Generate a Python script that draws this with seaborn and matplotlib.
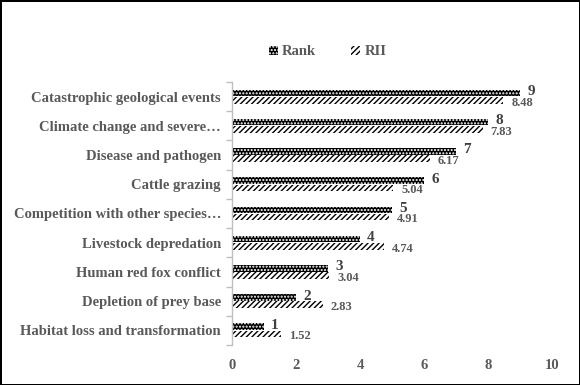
import numpy as np
import pandas as pd
import seaborn as sns
import matplotlib.pyplot as plt
from matplotlib.patches import Patch

categories = ['Catastrophic geological events', 'Climate change and severe…',
              'Disease and pathogen', 'Cattle grazing', 'Competition with other species…',
              'Livestock depredation', 'Human red fox conflict', 'Depletion of prey base',
              'Habitat loss and transformation']
rank = [9, 8, 7, 6, 5, 4, 3, 2, 1]
rii = [8.48, 7.83, 6.17, 5.04, 4.91, 4.74, 3.04, 2.83, 1.52]
series = ['Rank', 'RII']

df = pd.DataFrame({'threat': categories * 2,
                   'value': rank + rii,
                   'series': ['Rank'] * len(rank) + ['RII'] * len(rii)})

sns.set_theme(style='white')
plt.rcParams['font.family'] = ['Liberation Serif', 'DejaVu Serif']
plt.rcParams['font.weight'] = 'bold'
plt.rcParams['hatch.linewidth'] = 1.0
grey = '#595959'

fig = plt.figure(figsize=(5.8, 3.85), dpi=100)
fig.patch.set_edgecolor('black')
fig.patch.set_linewidth(2)
ax = fig.add_axes([0.4, 0.104, 0.552, 0.683])

sns.barplot(data=df, y='threat', x='value', hue='series', hue_order=series,
            order=categories, orient='h', width=0.5, gap=0.1, ax=ax, legend=False)

styles = {'Rank': dict(facecolor='black', edgecolor='white', hatch='.....', linewidth=0),
          'RII': dict(facecolor='white', edgecolor='black', hatch='//////', linewidth=0)}
for cont, s in zip(ax.containers, series):
    for bar in cont:
        bar.set_facecolor(styles[s]['facecolor'])
        bar.set_edgecolor(styles[s]['edgecolor'])
        bar.set_hatch(styles[s]['hatch'])
        bar.set_linewidth(0)

# value labels
for cont, s, vals in zip(ax.containers, series, [rank, rii]):
    for bar, v in zip(cont, vals):
        yc = bar.get_y() + bar.get_height() / 2
        if s == 'Rank':
            ax.text(v + 0.22, yc - 0.05, f'{v}', va='center', ha='left',
                    fontsize=11, color='#404040', fontweight='bold')
        else:
            ax.text(v + 0.25, yc + 0.08, f'{v:.2f}', va='center', ha='left',
                    fontsize=9, color=grey, fontweight='bold')

ax.set_xlim(0, 10)
ax.set_ylim(8.5, -0.5)
ax.set_xticks(np.arange(0, 11, 2))
ax.set_xlabel('')
ax.set_ylabel('')
for sp in ['top', 'right', 'bottom']:
    ax.spines[sp].set_visible(False)
ax.spines['left'].set_color('#bfbfbf')
ax.spines['left'].set_linewidth(1)
ax.set_yticks(np.arange(-0.5, 9, 1), minor=True)
ax.tick_params(axis='y', which='minor', length=4, color='#bfbfbf', left=True)
ax.tick_params(axis='y', which='major', length=0, pad=8, labelsize=10.5, labelcolor=grey)
ax.tick_params(axis='x', length=0, pad=10, labelsize=10.5, labelcolor=grey)
for lab in ax.get_xticklabels() + ax.get_yticklabels():
    lab.set_fontweight('bold')

handles = [Patch(label=s, **styles[s]) for s in series]
fig.legend(handles=handles, loc='center', bbox_to_anchor=(0.565, 0.865), ncol=2,
           frameon=False, fontsize=10.5, labelcolor=grey, handlelength=0.6,
           handleheight=0.6, columnspacing=2.4, handletextpad=0.3)

fig.savefig('out.png', dpi=100, edgecolor=fig.get_edgecolor())
